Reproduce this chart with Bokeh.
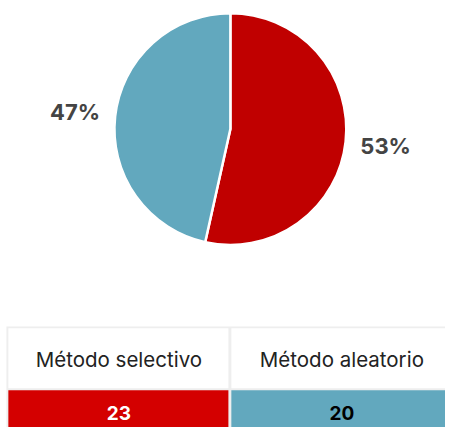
import math
from bokeh.plotting import figure
from bokeh.models import Range1d, ColumnDataSource
from bokeh.core.properties import value
from bokeh.embed import file_html
from bokeh.resources import INLINE

categories = ["Método selectivo", "Método aleatorio"]
counts = [23, 20]
pie_colors = ["#c00000", "#62a8be"]
cell_colors = ["#d40000", "#62a8be"]
value_text_colors = ["#ffffff", "#000000"]

FONT = "Inter"

total = sum(counts)
fracs = [c / total for c in counts]

W, H = 445, 427
p = figure(width=W, height=H, output_backend="svg", toolbar_location=None,
           x_range=Range1d(0, 453), y_range=Range1d(0, 435),
           min_border=0, outline_line_color=None)
p.axis.visible = False
p.grid.visible = False
p.background_fill_color = "white"
p.border_fill_color = "white"

# pie
cx, cy, r = 234, 304, 118
starts, ends, mids = [], [], []
a = math.pi / 2
for f in fracs:
    s = a
    e = a - 2 * math.pi * f
    starts.append(s)
    ends.append(e)
    mids.append((s + e) / 2)
    a = e
src = ColumnDataSource(dict(x=[cx] * len(counts), y=[cy] * len(counts),
                            start=starts, end=ends, color=pie_colors))
p.wedge(x="x", y="y", radius=r, start_angle="end", end_angle="start",
        direction="anticlock", fill_color="color", line_color="white",
        line_width=2.5, source=src)

lab_r = 159
labels = [f"{round(f * 100)}%" for f in fracs]
lx = [cx + lab_r * math.cos(m) for m in mids]
ly = [cy + lab_r * math.sin(m) for m in mids]
p.text(x=lx, y=ly, text=labels, text_align="center", text_baseline="middle",
       text_font=value(FONT), text_font_style="bold", text_font_size="22px",
       text_color="#444444")

# table
p.quad(left=[6], right=[470], bottom=[-10], top=[103], fill_color="#eeeeee",
       line_color=None)
col_left = [8, 235]
col_right = [232, 470]
p.quad(left=col_left, right=col_right, bottom=[40, 40], top=[101, 101],
       fill_color="white", line_color=None)
p.quad(left=col_left, right=col_right, bottom=[-10, -10], top=[38, 38],
       fill_color=cell_colors, line_color=None)
hx = [120.5, 347.5]
p.text(x=hx, y=[69, 69], text=categories, text_align="center",
       text_baseline="middle", text_font=value(FONT), text_font_size="20.5px",
       text_color="#222222")
p.text(x=hx, y=[15, 15], text=[str(c) for c in counts], text_align="center",
       text_baseline="middle", text_font=value(FONT), text_font_style="bold",
       text_font_size="19px", text_color=value_text_colors)

open("out.html", "w").write(file_html(p, INLINE))
